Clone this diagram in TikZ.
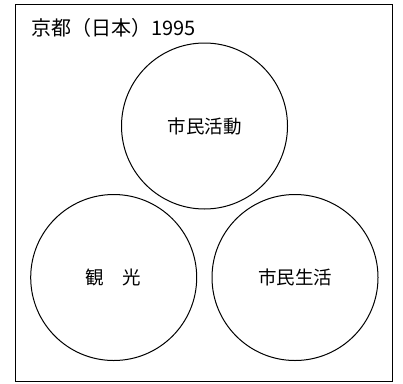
\documentclass[tikz,border=0pt]{standalone}
\usepackage{fontspec}
\setmainfont{Noto Sans CJK JP}
\begin{document}
\begin{tikzpicture}[x=1pt,y=-1pt,
  ring/.style={draw=black,line width=1pt,circle,minimum size=166pt,inner sep=0pt,font=\fontsize{18.5}{22}\selectfont},
  frame/.style={draw=black,line width=1pt}]
\useasboundingbox (0,0) rectangle (403,383);
\draw[frame] (15,4.5) rectangle (392.5,381);
\node[anchor=west,inner sep=0pt,font=\fontsize{20}{24}\selectfont] (title) at (31,28) {京都（日本）1995};
\node[ring] (act) at (204.5,126) {市民活動};
\node[ring] (kanko) at (113.7,277.5) {観　光};
\node[ring] (life) at (295,277.5) {市民生活};
\end{tikzpicture}
\end{document}
